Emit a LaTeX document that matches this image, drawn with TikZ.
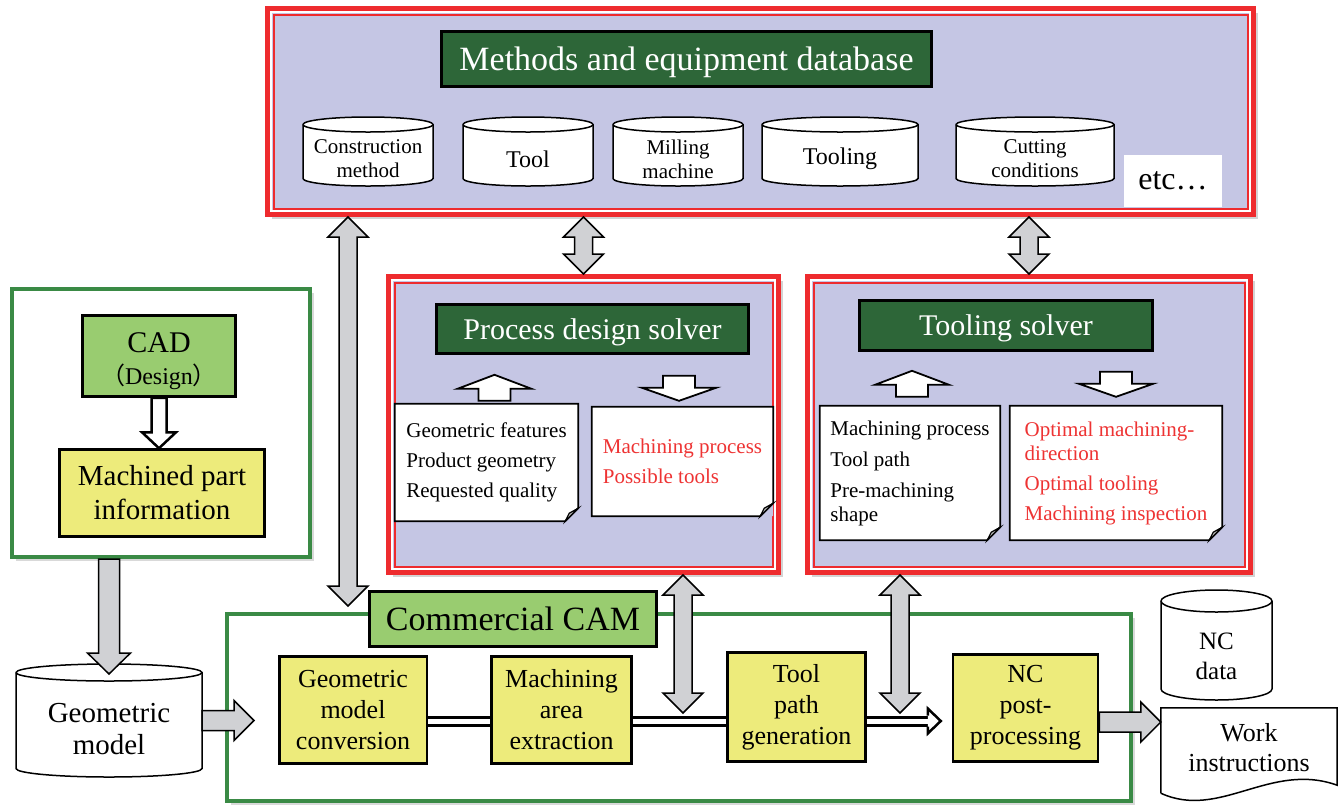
\documentclass[tikz,border=0pt]{standalone}
\usepackage{fontspec}
\setmainfont{Liberation Serif}
\newfontfamily\cjk{Noto Sans CJK SC}
\usetikzlibrary{shadows, calc}

\definecolor{lav}{HTML}{C5C6E4}
\definecolor{frred}{HTML}{EE2B2E}
\definecolor{dkgreen}{HTML}{2D6638}
\definecolor{ltgreen}{HTML}{99CC70}
\definecolor{yel}{HTML}{EDEB7B}
\definecolor{frgreen}{HTML}{3A8A45}
\definecolor{arrgray}{HTML}{D0D1D4}
\definecolor{redtxt}{HTML}{EE3333}

\newcommand\fsz[2]{\fontsize{#1}{#2}\selectfont}

% gray double arrow, from top point to bottom point
\newcommand\updown[2]{%
  \draw[grayarrow] let \p1=(#1), \p2=(#2) in
    (\x1,\y1) -- (\x1+20pt,\y1-20pt) -- (\x1+9pt,\y1-20pt) -- (\x1+9pt,\y2+20pt)
    -- (\x1+20pt,\y2+20pt) -- (\x1,\y2) -- (\x1-20pt,\y2+20pt) -- (\x1-9pt,\y2+20pt)
    -- (\x1-9pt,\y1-20pt) -- (\x1-20pt,\y1-20pt) -- cycle;}
% gray arrow to the right
\newcommand\rightgray[2]{%
  \draw[grayarrow] let \p1=(#1), \p2=(#2) in
    (\x1,\y1+10pt) -- (\x2-20pt,\y1+10pt) -- (\x2-20pt,\y1+20pt) -- (\x2,\y1)
    -- (\x2-20pt,\y1-20pt) -- (\x2-20pt,\y1-10pt) -- (\x1,\y1-10pt) -- cycle;}
% gray arrow downwards
\newcommand\downgray[2]{%
  \draw[grayarrow] let \p1=(#1), \p2=(#2) in
    (\x1-10.5pt,\y1) -- (\x1-10.5pt,\y2+21pt) -- (\x1-21.5pt,\y2+21pt) -- (\x1,\y2)
    -- (\x1+21.5pt,\y2+21pt) -- (\x1+10.5pt,\y2+21pt) -- (\x1+10.5pt,\y1) -- cycle;}
% hollow arrow downwards
\newcommand\hollowdown[2]{%
  \draw[whitearrow, line width=2.5pt] let \p1=(#1), \p2=(#2) in
    (\x1-7.5pt,\y1) -- (\x1-7.5pt,\y2+16pt) -- (\x1-17pt,\y2+16pt) -- (\x1,\y2)
    -- (\x1+17pt,\y2+16pt) -- (\x1+7.5pt,\y2+16pt) -- (\x1+7.5pt,\y1) -- cycle;}
% small block arrows in the solvers
\newcommand\blockup[1]{%
  \draw[whitearrow] let \p1=(#1) in
    (\x1-16pt,\y1) -- (\x1-16pt,\y1+12pt) -- (\x1-37pt,\y1+12pt) -- (\x1,\y1+26pt)
    -- (\x1+37pt,\y1+12pt) -- (\x1+16pt,\y1+12pt) -- (\x1+16pt,\y1) -- cycle;}
\newcommand\blockdown[1]{%
  \draw[whitearrow] let \p1=(#1) in
    (\x1-16pt,\y1) -- (\x1-16pt,\y1-12pt) -- (\x1-37pt,\y1-12pt) -- (\x1,\y1-25pt)
    -- (\x1+37pt,\y1-12pt) -- (\x1+16pt,\y1-12pt) -- (\x1+16pt,\y1) -- cycle;}
% head of the flow line
\newcommand\flowhead[1]{%
  \filldraw[fill=white, line width=2.5pt] let \p1=(#1) in
    (\x1-13pt,\y1+5.5pt) -- (\x1-13pt,\y1+12.5pt) -- (\x1,\y1) -- (\x1-13pt,\y1-12.5pt) -- (\x1-13pt,\y1-5.5pt);}
% outline of a note with folded corner
\newcommand\notefold[1]{%
  \fill[lav] let \p1=(#1.north west), \p2=(#1.south east) in
    (\x2-13pt,\y2) -- (\x2,\y2) -- (\x2,\y2+13pt) -- cycle;
  \draw[line width=1.8pt] let \p1=(#1.north west), \p2=(#1.south east) in
    (\x1,\y1) -- (\x2,\y1) -- (\x2,\y2+13pt) -- (\x2-13pt,\y2) -- (\x1,\y2) -- cycle;
  \filldraw[fill=black!30, line width=1.2pt] let \p2=(#1.south east) in
    (\x2,\y2+13pt) -- (\x2-13pt,\y2) -- (\x2-9pt,\y2+8pt) -- cycle;}
% database drum around a node: name, end radius, font, text
\newcommand\drum[4]{%
  \filldraw[drumline] let \p1=(#1.north west), \p2=(#1.south east), \n1={(\x2-\x1)/2} in
    (\x1,\y1-#2) -- (\x1,\y2+#2) arc[start angle=180, end angle=360, x radius=\n1, y radius=#2]
    -- (\x2,\y1-#2) arc[start angle=0, end angle=180, x radius=\n1, y radius=#2] -- cycle;
  \draw[drumline] let \p1=(#1.north west), \p2=(#1.south east), \n1={(\x2-\x1)/2} in
    (\x1,\y1-#2) arc[start angle=180, end angle=360, x radius=\n1, y radius=#2];
  \node[font=#3, align=center] (#1t) at ([yshift=-#2]#1.center) {#4};}

\begin{document}
\begin{tikzpicture}[x=1pt, y=-1pt,
    frame/.style={draw=frred, line width=5pt, fill=lav, inner sep=0pt,
      drop shadow={shadow xshift=4pt, shadow yshift=-4pt, opacity=0.35}},
    gframe/.style={draw=frgreen, line width=4pt, fill=white, inner sep=0pt,
      drop shadow={shadow xshift=4pt, shadow yshift=-4pt, opacity=0.3}},
    title/.style={draw=black, line width=2.5pt, fill=dkgreen, text=white, inner sep=0pt, text depth=0pt},
    drumbox/.style={inner sep=0pt, outer sep=0pt},
    drumline/.style={draw=black, fill=white, line width=1.5pt},
    stepbox/.style={draw, line width=2.5pt, fill=yel, align=center, inner sep=0pt,
      font=\fsz{26}{31}},
    note/.style={fill=white, inner sep=0pt, align=left, font=\fsz{21}{24}},
    grayarrow/.style={draw=black, line width=1.5pt, fill=arrgray},
    whitearrow/.style={draw=black, line width=1.8pt, fill=white},
    flowline/.style={double=white, double distance=5pt, line width=3pt}]
  \useasboundingbox (0,0) rectangle (1341,807);

  % Frames
  \node[frame, minimum width=986, minimum height=206] (db) at (760.5,111.5) {};
  \node[frame, minimum width=390, minimum height=296] (proc) at (583.5,424.5) {};
  \node[frame, minimum width=443, minimum height=296] (tool) at (1029,424.5) {};
  \foreach \f in {db,proc,tool} {
    \draw[white, line width=2.5pt] ([shift={(6.2pt,-6.2pt)}]\f.north west) rectangle ([shift={(-6.2pt,6.2pt)}]\f.south east);
    \draw[frred, line width=2pt] ([shift={(8.5pt,-8.5pt)}]\f.north west) rectangle ([shift={(-8.5pt,8.5pt)}]\f.south east);
  }
  \node[gframe, minimum width=298, minimum height=268] (cadf) at (161,423) {};
  \node[gframe, minimum width=904, minimum height=187] (cam) at (679,707.5) {};

  % Database
  \node[title, minimum width=490, minimum height=55, font=\fsz{34}{40}] (dbt) at (686.5,59) {Methods and equipment database};
  \node[drumbox, minimum width=130, minimum height=69] (cmeth) at (368,151.5) {};
  \node[drumbox, minimum width=130, minimum height=69] (ctool) at (528,151.5) {};
  \node[drumbox, minimum width=130, minimum height=69] (cmill) at (678,151.5) {};
  \node[drumbox, minimum width=156, minimum height=69] (ctooling) at (840,151.5) {};
  \node[drumbox, minimum width=158, minimum height=69] (ccut) at (1035,151.5) {};
  \drum{cmeth}{7.5pt}{\fsz{21}{24}}{Construction\\method}
  \drum{ctool}{7.5pt}{\fsz{24}{28}}{Tool}
  \drum{cmill}{7.5pt}{\fsz{21}{24}}{Milling\\machine}
  \drum{ctooling}{7.5pt}{\fsz{24}{28}}{Tooling}
  \drum{ccut}{7.5pt}{\fsz{21}{24}}{Cutting\\conditions}
  \node[fill=white, minimum width=98, minimum height=52, inner sep=0pt, font=\fsz{32}{36}] (etc) at (1173,181) {etc…};

  % Process design solver
  \node[title, minimum width=312, minimum height=49, font=\fsz{30}{36}] (proct) at (592.5,329) {Process design solver};
  \node[note, minimum width=183, minimum height=117] (pin) at (486.5,462.5)
    {Geometric features\\[6pt]Product geometry\\[6pt]Requested quality};
  \node[note, minimum width=181, minimum height=109, text=redtxt] (pout) at (682.5,461.5)
    {Machining process\\[6pt]Possible tools};

  % Tooling solver
  \node[title, minimum width=293, minimum height=50, font=\fsz{30}{36}] (toolt) at (1006,325.5) {Tooling solver};
  \node[note, minimum width=180, minimum height=134] (tin) at (910,473)
    {Machining process\\[7pt]Tool path\\[7pt]Pre-machining\\shape};
  \node[note, minimum width=212, minimum height=134, text=redtxt] (tout) at (1116,473)
    {Optimal machining-\\direction\\[6pt]Optimal tooling\\[6pt]Machining inspection};
  \foreach \nn in {pin,pout,tin,tout} \notefold{\nn};

  \blockup{[shift={(8pt,3pt)}]pin.north}
  \blockdown{[shift={(-3.5pt,31pt)}]pout.north}
  \blockup{[shift={(2pt,9pt)}]tin.north}
  \blockdown{[shift={(0pt,34pt)}]tout.north}

  % Design side
  \node[draw, line width=2.5pt, fill=ltgreen, minimum width=153, minimum height=81, align=center,
    inner sep=0pt, font=\fsz{30}{32}] (cad) at (159,356) {\rule{0pt}{30pt}CAD\\{\fsz{24}{28}{\cjk （}Design{\cjk ）}}};
  \node[draw, line width=2.5pt, fill=yel, minimum width=205, minimum height=87, align=center,
    inner sep=0pt, font=\fsz{29}{34}] (mpi) at (162,493) {Machined part\\information};
  \node[drumbox, minimum width=186, minimum height=113] (geo) at (109,720.5) {};
  \drum{geo}{8.5pt}{\fsz{29}{32}}{Geometric\\model}

  % Commercial CAM
  \node[draw, line width=2.5pt, fill=ltgreen, minimum width=287, minimum height=55, inner sep=0pt,
    font=\fsz{34}{40}] (camt) at (513,619) {Commercial CAM};
  \node[stepbox, minimum width=147.5, minimum height=107] (conv) at (353,710) {Geometric\\model\\conversion};
  \node[stepbox, minimum width=140, minimum height=107] (mach) at (561.5,710) {Machining\\area\\extraction};
  \node[stepbox, minimum width=138, minimum height=109] (tpath) at (796.5,707) {Tool\\path\\generation};
  \node[stepbox, minimum width=145, minimum height=107] (post) at (1025.5,708) {NC\\post-\\processing};

  % Outputs
  \node[drumbox, minimum width=111, minimum height=110] (ncd) at (1216.5,645) {};
  \drum{ncd}{11pt}{\fsz{25}{30}}{NC\\data}
  \node[minimum width=176, minimum height=80, inner sep=0pt, align=center, font=\fsz{26}{30}] (work) at (1249,748) {Work\\instructions};
  \draw[line width=1.5pt] ([yshift=-5pt]work.south west) -- (work.north west) -- (work.north east)
    -- ([yshift=3pt]work.south east) .. controls +(-67pt,24pt) and +(59pt,-27pt) .. ([yshift=-5pt]work.south west);

  % Flow through the CAM
  \draw[flowline] ([yshift=-11pt]conv.east) -- ([yshift=-11pt]conv.east -| mach.west);
  \draw[flowline] ([yshift=-11pt]mach.east) -- ([yshift=-11pt]mach.east -| tpath.west);
  \draw[flowline] ([yshift=-14pt]tpath.east) -- ([shift={(-23pt,-13pt)}]post.west);
  \flowhead{[shift={(-11pt,-13pt)}]post.west}

  % Exchange arrows
  \coordinate (camIn) at (348,606);
  \coordinate (tapA) at (683,713);
  \coordinate (tapB) at (900,713);
  \updown{db.south -| proc.north}{proc.north}
  \updown{db.south -| tool.north}{tool.north}
  \updown{db.south -| camIn}{camIn}
  \updown{proc.south -| tapA}{tapA}
  \updown{tool.south -| tapB}{tapB}

  \hollowdown{cad.south}{mpi.north}
  \downgray{cadf.south -| geo.north}{[yshift=-10pt]geo.north}
  \rightgray{geo.east}{[xshift=-24pt]conv.west}
  \rightgray{[yshift=-14pt]post.east}{work.west}
\end{tikzpicture}
\end{document}
